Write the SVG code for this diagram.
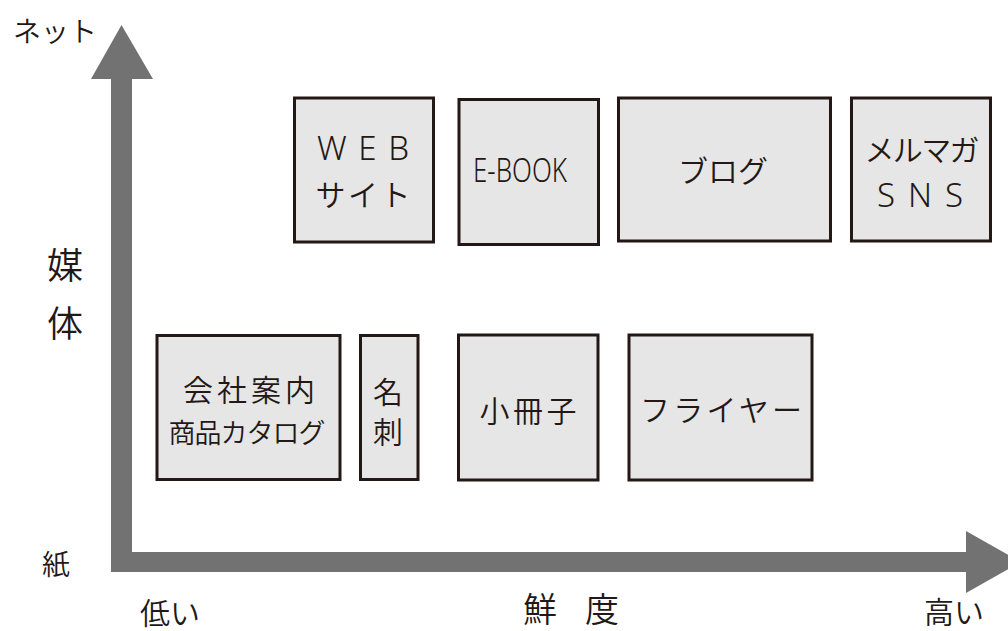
<svg xmlns="http://www.w3.org/2000/svg" width="1008" height="631" viewBox="0 0 1008 631">
<style>
.box{fill:#e6e6e6;stroke:#231815;stroke-width:3}
.axis{fill:#727272}
text{font-family:"Noto Sans CJK JP","Noto Sans",sans-serif;font-weight:350;fill:#231815;text-anchor:middle}
.t30{font-size:30px}
.lat{font-family:"Noto Sans","Noto Sans CJK JP",sans-serif;font-size:33px;font-weight:350}
</style>
<g id="connectors">
<path class="axis" d="M111,79 H91 L121.5,25 L153,79 H132 V552 H966 V531 L1021,562 L966,593 V572 H111 Z"/>
</g>
<g id="axis-labels">
<text x="55" y="42" style="font-size:28px" textLength="84" lengthAdjust="spacingAndGlyphs">ネット</text>
<text x="65" y="279" style="font-size:36px">媒</text>
<text x="65" y="337" style="font-size:36px">体</text>
<text x="56" y="575" style="font-size:28px">紙</text>
<text x="170" y="624" class="t30">低い</text>
<text x="571" y="622" style="font-size:34px" textLength="96" lengthAdjust="spacing">鮮 度</text>
<text x="954" y="623" class="t30">高い</text>
</g>
<g id="web">
<rect class="box" x="294.5" y="98" width="139" height="144"/>
<text x="363" y="160" class="lat" textLength="92" lengthAdjust="spacing">WEB</text>
<text x="363" y="206" class="t30" textLength="95" lengthAdjust="spacing">サイト</text>
</g>
<g id="ebook">
<rect class="box" x="459" y="99.5" width="139.5" height="145"/>
<text x="520" y="182" style="font-family:'Noto Sans',sans-serif;font-size:33px;font-weight:300" textLength="94" lengthAdjust="spacingAndGlyphs">E-BOOK</text>
</g>
<g id="blog">
<rect class="box" x="618.5" y="98" width="212" height="143"/>
<text x="723" y="182" class="t30" textLength="90" lengthAdjust="spacing">ブログ</text>
</g>
<g id="mailmag">
<rect class="box" x="851.5" y="98" width="139" height="143"/>
<text x="922" y="161" class="t30" textLength="115" lengthAdjust="spacing">メルマガ</text>
<text x="920" y="207" class="lat" textLength="86" lengthAdjust="spacing">SNS</text>
</g>
<g id="company">
<rect class="box" x="157" y="335.5" width="183" height="144"/>
<text x="249" y="401" class="t30" textLength="132" lengthAdjust="spacing">会社案内</text>
<text x="247" y="443" style="font-size:27px" textLength="157" lengthAdjust="spacing">商品カタログ</text>
</g>
<g id="meishi">
<rect class="box" x="360.5" y="335.5" width="57.5" height="144"/>
<text x="388" y="403" class="t30">名</text>
<text x="388" y="443" class="t30">刺</text>
</g>
<g id="booklet">
<rect class="box" x="458.5" y="335" width="139.5" height="145"/>
<text x="528" y="422" class="t30" textLength="97" lengthAdjust="spacing">小冊子</text>
</g>
<g id="flyer">
<rect class="box" x="629" y="335" width="183" height="145"/>
<text x="721" y="421" class="t30" textLength="162" lengthAdjust="spacing">フライヤー</text>
</g>
</svg>
